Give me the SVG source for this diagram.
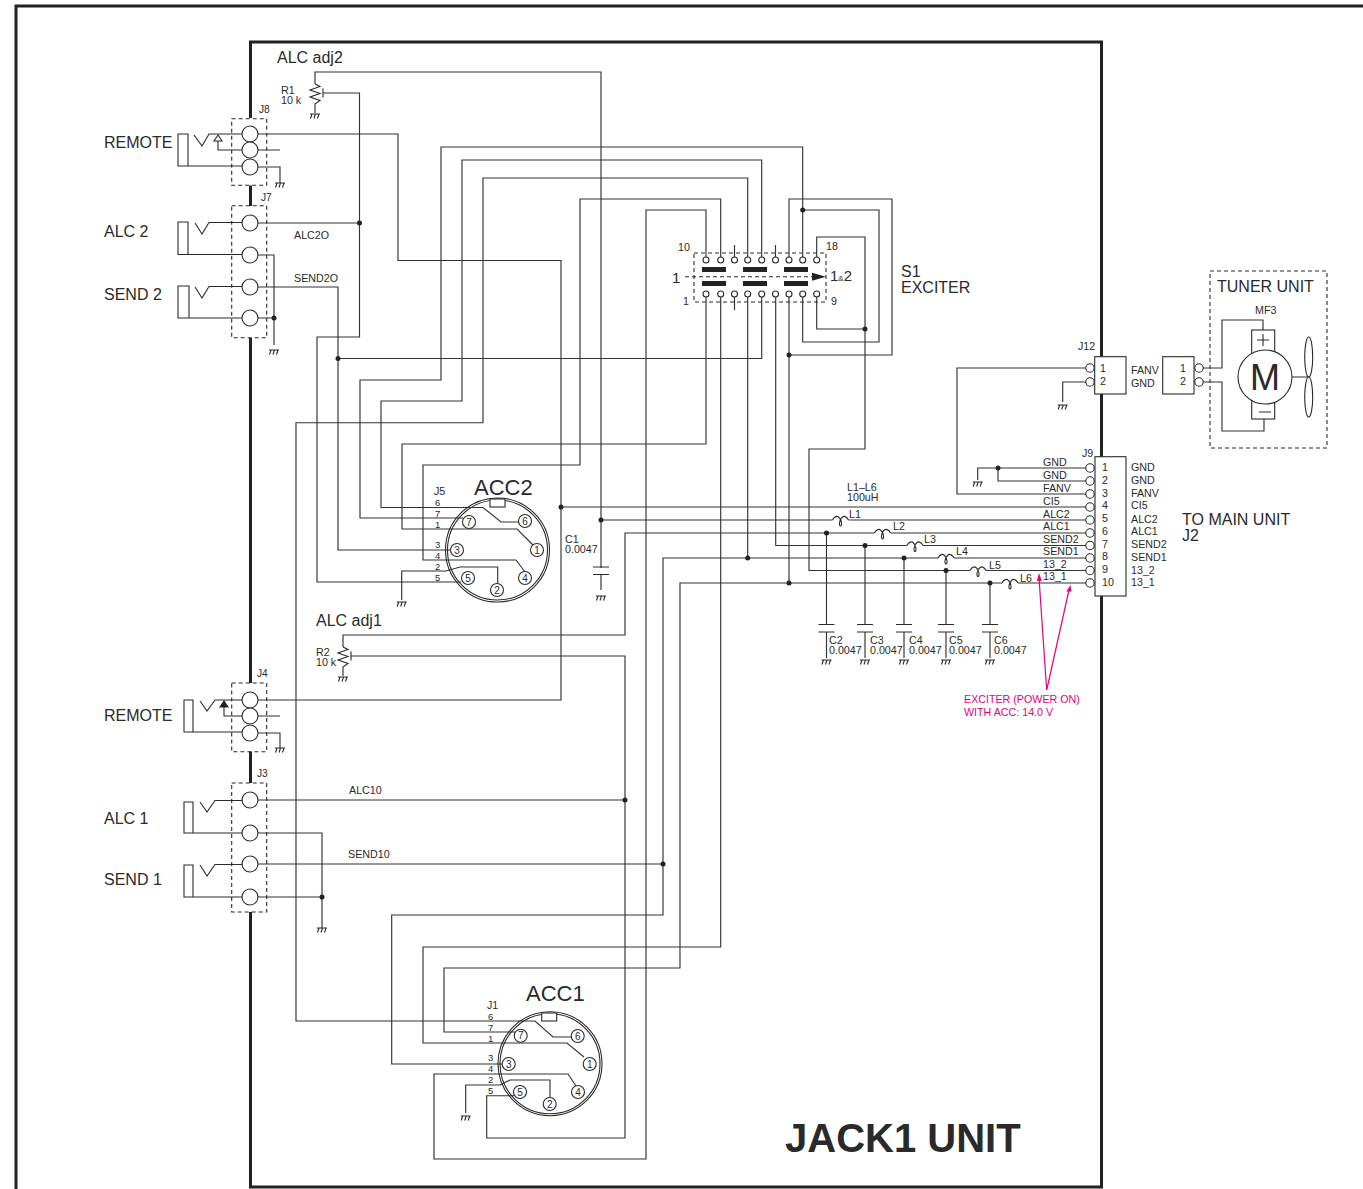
<svg xmlns="http://www.w3.org/2000/svg" width="1363" height="1189" viewBox="0 0 1363 1189">
<style>
text{font-family:"Liberation Sans",Arial,sans-serif;fill:#2a2a2a;font-size:10.7px}
.l{font-size:16px}
.n{font-size:10.2px}
.acc{font-size:22px}
.pin{font-size:10px;text-anchor:middle}
.q{font-size:9.5px}
.pk{fill:#e6007e;font-size:10.7px}
.w{fill:none;stroke:#333;stroke-width:1.15}
.s{fill:none;stroke:#2a2a2a;stroke-width:1.1}
.d{fill:none;stroke:#2a2a2a;stroke-width:1.1;stroke-dasharray:4 3}
.o{fill:#fff;stroke:#2a2a2a;stroke-width:1.1}
.t{fill:none;stroke:#222;stroke-width:3}
.b{fill:#222}
.dot{fill:#222}
.p{fill:none;stroke:#e6007e;stroke-width:1.2}
.pf{fill:#e6007e}
</style>
<defs>
<g id="gnd" class="s"><path d="M-5 0H5M-4.500 4.500L-3 0M-1 4.500L.5 0M2.500 4.500L4 0"/></g>
<g id="coil" class="s"><path d="M-8 0C-6-4-3-4-2-3C1-1 2 6 0 6C-2 6-1-1 2-3C3-4 6-4 8 0"/></g>
<g id="cap" class="s"><path d="M-8 0H8M-8 7.500H8"/></g>
<circle id="jc" r="8" class="o"/>
<circle id="sp" r="3" class="o"/>
<circle id="cp" r="4.200" class="o"/>
<circle id="dp" r="6.500" class="o"/>
</defs>
<g id="frame">
<path class="t" d="M16 1189V6H1363"/>
<path class="t" d="M250.500 118V42H1101.500V1187H250.500V912M250.500 783V751.500M250.500 683V338M250.500 206V185.500"/>
</g>
<g id="connectors">
<path class="w" d="M315 84V72H601V568M601 574V590"/>
<path class="w" d="M323 93H359.500V337H317V582H461"/>
<path class="w" d="M250 223H359.500"/>
<path class="w" d="M250 134H398V260.500H561V700H250"/>
<path class="w" d="M561 507H1086"/>
<path class="w" d="M802.700 260V147H441V380H360V518H463"/>
<path class="w" d="M761.700 260V160H462V401H381V507.500H483L501 522H519"/>
<path class="w" d="M747.700 260V178H483V422.700H296V1021H535L553 1037H571"/>
<path class="w" d="M720.700 260V199H580V465H423V560H516L525 572"/>
<path class="w" d="M706 260V210H646V1159H434V1074H568L576 1086"/>
<path class="w" d="M706 294V444H402V529H517L533 545"/>
<path class="w" d="M250 287H338V550H451"/>
<path class="w" d="M338 358.500H761.700V294"/>
<path class="w" d="M720.700 294V947H423V1043H567L584 1057"/>
<path class="w" d="M734.500 294V310M734.500 260V245M775.500 260V245"/>
<path class="w" d="M747.700 294V558H663V915H391.700V1064H502"/>
<path class="w" d="M250 864H663"/>
<path class="w" d="M775.700 294V545.500H907M923 545.500H1086"/>
<path class="w" d="M789 260V199H892V355H789"/>
<path class="w" d="M789 294V583H680V968H444V1032H515"/>
<path class="w" d="M802.700 294V342H879V210H802.700"/>
<path class="w" d="M816.700 294V329H865M816.700 260V237H865V449H809V570.500H970M986 570.500H1086"/>
<path class="w" d="M601 520H832.500M848.500 520H1086"/>
<path class="w" d="M343 647V635H625V533H874.500M890.500 533H1086"/>
<path class="w" d="M351 656H625V1138H486.700V1095.700H514"/>
<path class="w" d="M250 800H625"/>
<path class="w" d="M747.700 558H938M954 558H1086"/>
<path class="w" d="M789 583H1002M1018 583H1086"/>
<path class="w" d="M1086 368H957V494H1086"/>
<path class="w" d="M1086 382H1062.700V402"/>
<path class="w" d="M1086 468H977.700V480M998 468V481H1086"/>
<path class="w" d="M826.500 533V624.500M826.500 632V658M865 545.500V624.500M865 632V658M904 558V624.500M904 632V658M946 570.500V624.500M946 632V658M990 583V624.500M990 632V658"/>
<path class="w" d="M250 150H280M250 167H280V183"/>
<path class="w" d="M250 255H274V345M250 318H274"/>
<path class="w" d="M250 716H280M250 733H280V748"/>
<path class="w" d="M250 833H322V928M250 897H322"/>
<path class="w" d="M401.700 600V571H446L460 567H497.700V583"/>
<path class="w" d="M465.700 1113V1085H500L510 1080H550V1097"/>
<path class="w" d="M1203 368H1222V320H1263V330"/>
<path class="w" d="M1203 382H1222V431H1264V419"/>
<g class="dot">
<circle cx="359.500" cy="223" r="2.500"/><circle cx="338" cy="358.500" r="2.500"/><circle cx="274" cy="318" r="2.500"/>
<circle cx="322" cy="897" r="2.500"/><circle cx="561" cy="507" r="2.500"/><circle cx="601" cy="520" r="2.500"/>
<circle cx="802.700" cy="210" r="2.500"/><circle cx="865" cy="329" r="2.500"/><circle cx="789" cy="355" r="2.500"/>
<circle cx="747.700" cy="558" r="2.500"/><circle cx="789" cy="583" r="2.500"/><circle cx="625" cy="800" r="2.500"/>
<circle cx="663" cy="864" r="2.500"/><circle cx="826.500" cy="533" r="2.500"/><circle cx="865" cy="545.500" r="2.500"/>
<circle cx="904" cy="558" r="2.500"/><circle cx="946" cy="570.500" r="2.500"/><circle cx="990" cy="583" r="2.500"/>
<circle cx="998" cy="468" r="2.500"/>
</g>
</g>
<g id="grounds">
<use href="#gnd" x="315" y="114"/><use href="#gnd" x="280" y="183"/><use href="#gnd" x="274" y="350"/>
<use href="#gnd" x="343" y="677"/><use href="#gnd" x="280" y="748"/><use href="#gnd" x="322" y="928"/>
<use href="#gnd" x="401.700" y="602"/><use href="#gnd" x="465.700" y="1116"/><use href="#gnd" x="601" y="596"/>
<use href="#gnd" x="1062.700" y="405"/><use href="#gnd" x="977.700" y="482"/>
<use href="#gnd" x="826.500" y="660"/><use href="#gnd" x="865" y="660"/><use href="#gnd" x="904" y="660"/><use href="#gnd" x="946" y="660"/><use href="#gnd" x="990" y="660"/>
</g>
<g id="R1"><path class="s" d="M315 84L320 86.500L310 90L320 93.500L310 97L320 100.500L315 104V113M323 88.500V97.500"/>
<text x="281" y="94">R1</text><text x="281" y="104">10 k</text><text class="l" x="277" y="63">ALC adj2</text></g>
<g id="R2"><path class="s" d="M343 647L348 649.500L338 653L348 656.500L338 660L348 663.500L343 667V676M351 651.500V660.500"/>
<text x="316" y="656">R2</text><text x="316" y="666">10 k</text><text class="l" x="316" y="626">ALC adj1</text></g>
<g id="J8"><rect class="d" x="231.700" y="118.700" width="35" height="66.500"/>
<text class="n" x="259" y="113">J8</text><text class="l" x="104" y="148">REMOTE</text>
<path class="s" d="M178 134H188V166H178ZM188 166H250M194 135L202 146L209 134H250M218 141V150H250"/>
<path class="o" d="M218 135L214 141H222Z"/>
<use href="#jc" x="250" y="134"/><use href="#jc" x="250" y="150"/><use href="#jc" x="250" y="167"/></g>
<g id="J7"><rect class="d" x="231.700" y="205.700" width="35" height="132"/>
<text class="n" x="261" y="201">J7</text><text class="l" x="104" y="237">ALC 2</text><text class="l" x="104" y="300">SEND 2</text>
<text x="294" y="239">ALC2O</text><text x="294" y="282">SEND2O</text>
<path class="s" d="M178 222H188V254.500H178ZM188 254.500H250M195 223L202 234L209 222.500H250M178 286H189V318H178ZM189 318H250M195 287L202 298L209 286.500H250"/>
<use href="#jc" x="250" y="223"/><use href="#jc" x="250" y="255"/><use href="#jc" x="250" y="287"/><use href="#jc" x="250" y="318"/></g>
<g id="J4"><rect class="d" x="231.700" y="683" width="35" height="68.700"/>
<text class="n" x="257" y="677">J4</text><text class="l" x="104" y="721">REMOTE</text>
<path class="s" d="M184 700H193V732H184ZM193 732H250M200 701L207 711L215 700H250M224 707V716H250"/>
<path class="b" d="M224 700L219 707.500H229Z"/>
<use href="#jc" x="250" y="700"/><use href="#jc" x="250" y="716"/><use href="#jc" x="250" y="733"/></g>
<g id="J3"><rect class="d" x="231.700" y="783" width="35" height="129"/>
<text class="n" x="257" y="777">J3</text><text class="l" x="104" y="824">ALC 1</text><text class="l" x="104" y="885">SEND 1</text>
<text x="349" y="794">ALC10</text><text x="348" y="858">SEND10</text>
<path class="s" d="M184 802H193V833H184ZM193 833H250M200 802L207 812L215 800.500H250M184 865H193V897H184ZM193 897H250M200 865L207 876L215 864.500H250"/>
<use href="#jc" x="250" y="800"/><use href="#jc" x="250" y="833"/><use href="#jc" x="250" y="864"/><use href="#jc" x="250" y="897"/></g>
<g id="S1">
<rect class="d" x="694" y="253" width="132" height="49"/>
<path class="d" d="M685 276.700H814"/>
<path class="b" d="M812 272.700L826 276.700L812 280.700Z"/>
<g class="b"><rect x="702" y="267" width="24" height="5"/><rect x="743" y="267" width="24" height="5"/><rect x="784" y="267" width="24" height="5"/><rect x="702" y="281" width="24" height="5"/><rect x="743" y="281" width="24" height="5"/><rect x="784" y="281" width="24" height="5"/></g>
<use href="#sp" x="706" y="260"/><use href="#sp" x="720.700" y="260"/><use href="#sp" x="734.500" y="260"/><use href="#sp" x="747.700" y="260"/><use href="#sp" x="761.700" y="260"/><use href="#sp" x="775.500" y="260"/><use href="#sp" x="789" y="260"/><use href="#sp" x="802.700" y="260"/><use href="#sp" x="816.700" y="260"/>
<use href="#sp" x="706" y="294"/><use href="#sp" x="720.700" y="294"/><use href="#sp" x="734.500" y="294"/><use href="#sp" x="747.700" y="294"/><use href="#sp" x="761.700" y="294"/><use href="#sp" x="775.500" y="294"/><use href="#sp" x="789" y="294"/><use href="#sp" x="802.700" y="294"/><use href="#sp" x="816.700" y="294"/>
<text x="678" y="251">10</text><text x="826" y="250">18</text><text x="683" y="305">1</text><text x="831" y="305">9</text>
<text x="672" y="283" style="font-size:15px">1</text>
<text x="830" y="281" style="font-size:15px">1<tspan style="font-size:8px">&amp;</tspan>2</text>
<text class="l" x="901" y="277">S1</text><text class="l" x="901" y="293">EXCITER</text>
</g>
<g id="ACC2">
<circle class="s" cx="497.500" cy="550" r="52"/><circle class="s" cx="497.500" cy="550" r="50"/>
<rect class="o" x="490" y="499" width="15" height="8"/>
<use href="#dp" x="469" y="522"/><use href="#dp" x="525" y="521"/><use href="#dp" x="457" y="550"/><use href="#dp" x="537" y="550"/><use href="#dp" x="468" y="578"/><use href="#dp" x="525" y="578"/><use href="#dp" x="497" y="590"/>
<text class="pin" x="469" y="525.500">7</text><text class="pin" x="525" y="524.500">6</text><text class="pin" x="457" y="553.500">3</text><text class="pin" x="537" y="553.500">1</text><text class="pin" x="468" y="581.500">5</text><text class="pin" x="525" y="581.500">4</text><text class="pin" x="497" y="593.500">2</text>
<text class="acc" x="474" y="495">ACC2</text><text x="434" y="495">J5</text>
<text class="q" x="435" y="506">6</text><text class="q" x="435" y="517">7</text><text class="q" x="435" y="528">1</text><text class="q" x="435" y="548">3</text><text class="q" x="435" y="559">4</text><text class="q" x="435" y="570">2</text><text class="q" x="435" y="581">5</text>
</g>
<g id="ACC1">
<circle class="s" cx="550" cy="1063.700" r="52"/><circle class="s" cx="550" cy="1063.700" r="50"/>
<rect class="o" x="541.700" y="1013" width="15" height="8"/>
<use href="#dp" x="520.700" y="1035.700"/><use href="#dp" x="577.700" y="1036"/><use href="#dp" x="508.700" y="1064"/><use href="#dp" x="589.700" y="1064"/><use href="#dp" x="520" y="1092"/><use href="#dp" x="578" y="1092"/><use href="#dp" x="549.700" y="1104"/>
<text class="pin" x="520.700" y="1039.200">7</text><text class="pin" x="577.700" y="1039.500">6</text><text class="pin" x="508.700" y="1067.500">3</text><text class="pin" x="589.700" y="1067.500">1</text><text class="pin" x="520" y="1095.500">5</text><text class="pin" x="578" y="1095.500">4</text><text class="pin" x="549.700" y="1107.500">2</text>
<text class="acc" x="526" y="1001">ACC1</text><text x="487" y="1009">J1</text>
<text class="q" x="488" y="1019.500">6</text><text class="q" x="488" y="1031">7</text><text class="q" x="488" y="1042">1</text><text class="q" x="488" y="1061">3</text><text class="q" x="488" y="1072">4</text><text class="q" x="488" y="1083">2</text><text class="q" x="488" y="1094">5</text>
</g>
<g id="C1"><use href="#cap" x="601" y="567"/><text x="565" y="543">C1</text><text x="565" y="553">0.0047</text></g>
<g id="L1-L6">
<use href="#coil" x="840.500" y="520"/><use href="#coil" x="882.500" y="533"/><use href="#coil" x="915" y="545.500"/><use href="#coil" x="946" y="558"/><use href="#coil" x="978" y="570.500"/><use href="#coil" x="1010" y="583"/>
<text x="849" y="518">L1</text><text x="893" y="530">L2</text><text x="924" y="543">L3</text><text x="956" y="555">L4</text><text x="989" y="569">L5</text><text x="1020" y="582">L6</text>
<text x="847" y="491">L1–L6</text><text x="847" y="501">100uH</text>
</g>
<g id="C2-C6">
<use href="#cap" x="826.500" y="624.500"/><use href="#cap" x="865" y="624.500"/><use href="#cap" x="904" y="624.500"/><use href="#cap" x="946" y="624.500"/><use href="#cap" x="990" y="624.500"/>
<text x="829" y="644">C2</text><text x="829" y="654">0.0047</text><text x="870" y="644">C3</text><text x="870" y="654">0.0047</text><text x="909" y="644">C4</text><text x="909" y="654">0.0047</text><text x="949" y="644">C5</text><text x="949" y="654">0.0047</text><text x="994" y="644">C6</text><text x="994" y="654">0.0047</text>
</g>
<g id="J12">
<rect class="o" x="1094.700" y="356.700" width="31.300" height="37.300"/>
<use href="#cp" x="1090" y="368"/><use href="#cp" x="1090" y="382"/>
<text x="1078" y="350">J12</text><text x="1100" y="372">1</text><text x="1100" y="385">2</text><text x="1131" y="374">FANV</text><text x="1131" y="387">GND</text>
</g>
<g id="J9">
<rect class="o" x="1095" y="456.700" width="31" height="139.300"/>
<use href="#cp" x="1090" y="468"/><use href="#cp" x="1090" y="481"/><use href="#cp" x="1090" y="494"/><use href="#cp" x="1090" y="507"/><use href="#cp" x="1090" y="520"/><use href="#cp" x="1090" y="533"/><use href="#cp" x="1090" y="545.500"/><use href="#cp" x="1090" y="558"/><use href="#cp" x="1090" y="570.500"/><use href="#cp" x="1090" y="583"/>
<text x="1082" y="457">J9</text>
<text x="1102" y="471">1</text><text x="1102" y="484">2</text><text x="1102" y="496.500">3</text><text x="1102" y="509">4</text><text x="1102" y="522">5</text><text x="1102" y="535">6</text><text x="1102" y="548">7</text><text x="1102" y="560">8</text><text x="1102" y="573">9</text><text x="1102" y="586">10</text>
<text x="1131" y="471">GND</text><text x="1131" y="484">GND</text><text x="1131" y="497">FANV</text><text x="1131" y="509">CI5</text><text x="1131" y="523">ALC2</text><text x="1131" y="535">ALC1</text><text x="1131" y="548">SEND2</text><text x="1131" y="561">SEND1</text><text x="1131" y="574">13_2</text><text x="1131" y="586">13_1</text>
<text x="1043" y="466">GND</text><text x="1043" y="479">GND</text><text x="1043" y="492">FANV</text><text x="1043" y="505">CI5</text><text x="1043" y="518">ALC2</text><text x="1043" y="530">ALC1</text><text x="1043" y="543">SEND2</text><text x="1043" y="555">SEND1</text><text x="1043" y="568">13_2</text><text x="1043" y="580">13_1</text>
<text class="l" x="1182" y="525">TO MAIN UNIT</text><text class="l" x="1182" y="541">J2</text>
</g>
<g id="MF3-connector">
<rect class="o" x="1162.700" y="356.700" width="31.300" height="37.300"/>
<use href="#cp" x="1199" y="368"/><use href="#cp" x="1199" y="382"/>
<text x="1180" y="372">1</text><text x="1180" y="385">2</text>
</g>
<g id="tuner-unit">
<rect class="d" x="1210" y="271" width="117" height="177"/>
<text class="l" x="1217" y="292">TUNER UNIT</text><text x="1255" y="314">MF3</text>
<rect class="o" x="1251.700" y="330" width="23" height="25"/><rect class="o" x="1251.700" y="399" width="23" height="20"/>
<circle class="o" cx="1265" cy="377" r="27"/>
<path class="s" d="M1257 340H1269M1263 334V346M1259 412H1271M1292 377H1308"/>
<ellipse class="s" cx="1308.700" cy="357" rx="4" ry="20"/><ellipse class="s" cx="1308.700" cy="397" rx="4" ry="20"/>
<text x="1265" y="390" text-anchor="middle" style="font-size:36px">M</text>
</g>
<g id="annotation">
<path class="p" d="M1039 578L1046.700 690L1069 590"/>
<path class="pf" d="M1039 573L1036.800 581H1041.800ZM1070.500 585L1066.300 591.500H1071.500Z"/>
<text class="pk" x="964" y="703">EXCITER (POWER ON)</text><text class="pk" x="964" y="716">WITH ACC: 14.0 V</text>
</g>
<text x="785" y="1152" style="font-size:40px;font-weight:bold">JACK1 UNIT</text>
</svg>
